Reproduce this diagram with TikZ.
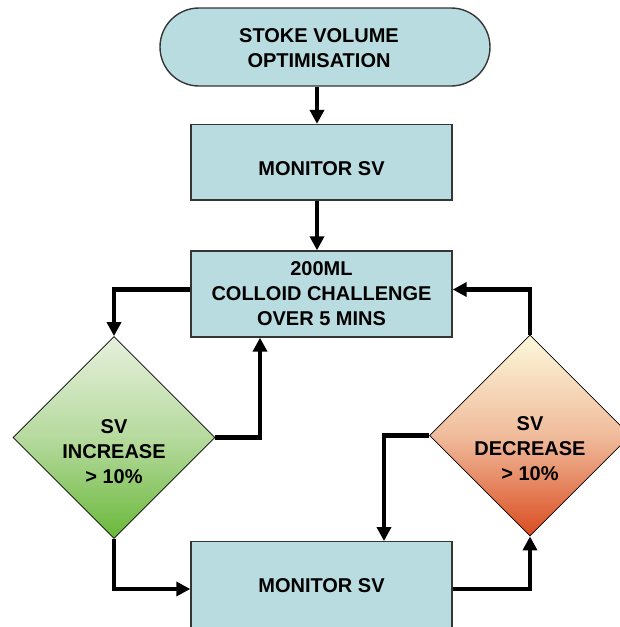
\documentclass[tikz,border=0pt]{standalone}
\usepackage{fontspec}
\setmainfont{Liberation Sans}
\usetikzlibrary{shapes.misc,shapes.geometric,arrows.meta}
\definecolor{boxfill}{HTML}{B8DCE0}
\definecolor{boxline}{HTML}{353535}
\definecolor{gtop}{HTML}{E6F0DC}
\definecolor{gmid}{HTML}{B6DA9E}
\definecolor{gbot}{HTML}{6AB83A}
\definecolor{rtop}{HTML}{FCF8DA}
\definecolor{rmid}{HTML}{F0BC9C}
\definecolor{rbot}{HTML}{DA4C20}
\tikzset{
  txt/.style={font=\fontsize{20}{25}\selectfont\bfseries, align=center, inner sep=0pt},
  procbox/.style={draw=boxline, line width=1.4pt, fill=boxfill, minimum width=261pt, inner sep=0pt},
  termbox/.style={rounded rectangle, draw=boxline, line width=1.4pt, fill=boxfill, minimum width=330pt, minimum height=78pt, inner sep=0pt},
  decbox/.style={diamond, draw=black, line width=0.8pt, inner sep=0pt, shape aspect=1},
  arr/.style={line width=4.5pt, -{Triangle[length=14pt,width=14pt]}}
}
\begin{document}
\begin{tikzpicture}[x=1pt,y=-1pt]
\useasboundingbox (0,0) rectangle (620,627);
% shapes
\node[termbox] (term) at (325,47) {};
\node[txt] (termtxt) at (319,48.5) {STOKE VOLUME\\OPTIMISATION};
\node[procbox, minimum height=75.5pt] (box1) at (321.5,162.3) {};
\node[txt] (box1txt) at (321.5,169) {MONITOR SV};
\node[procbox, minimum height=86pt] (box2) at (321.5,294) {};
\node[txt] at (box2.center) {200ML\\COLLOID CHALLENGE\\OVER 5 MINS};
\node[procbox, minimum height=87.5pt] (box3) at (321.5,585.5) {};
\node[txt] at (box3.center) {MONITOR SV};
\node[decbox, minimum width=202pt, minimum height=202pt,
      top color=gtop, bottom color=gbot, middle color=gmid] (dL) at (114,437.5) {};
\node[txt] (dLtxt) at (114,451.5) {SV\\INCREASE\\{>} 10\%};
\node[decbox, minimum width=201pt, minimum height=201pt,
      top color=rtop, bottom color=rbot, middle color=rmid] (dR) at (530,435.5) {};
\node[txt] (dRtxt) at (530,449) {SV\\DECREASE\\{>} 10\%};
% connectors
\draw[arr] ([xshift=-8pt]term.south) -- ([xshift=-4.5pt]box1.north);
\draw[arr] ([xshift=-4.5pt]box1.south) -- ([xshift=-4.5pt]box2.north);
\draw[arr] ([yshift=4.5pt]box2.west) -| (dL.north);
\draw[arr] (dL.east) -| ([xshift=-61.5pt]box2.south);
\draw[arr] (dL.south) |- ([yshift=-3.5pt]box3.west);
\draw[arr] ([yshift=-3.5pt]box3.east) -| (dR.south);
\draw[arr] (dR.west) -| ([xshift=62.5pt]box3.north);
\draw[arr] (dR.north) |- ([yshift=4.5pt]box2.east);
\end{tikzpicture}
\end{document}
